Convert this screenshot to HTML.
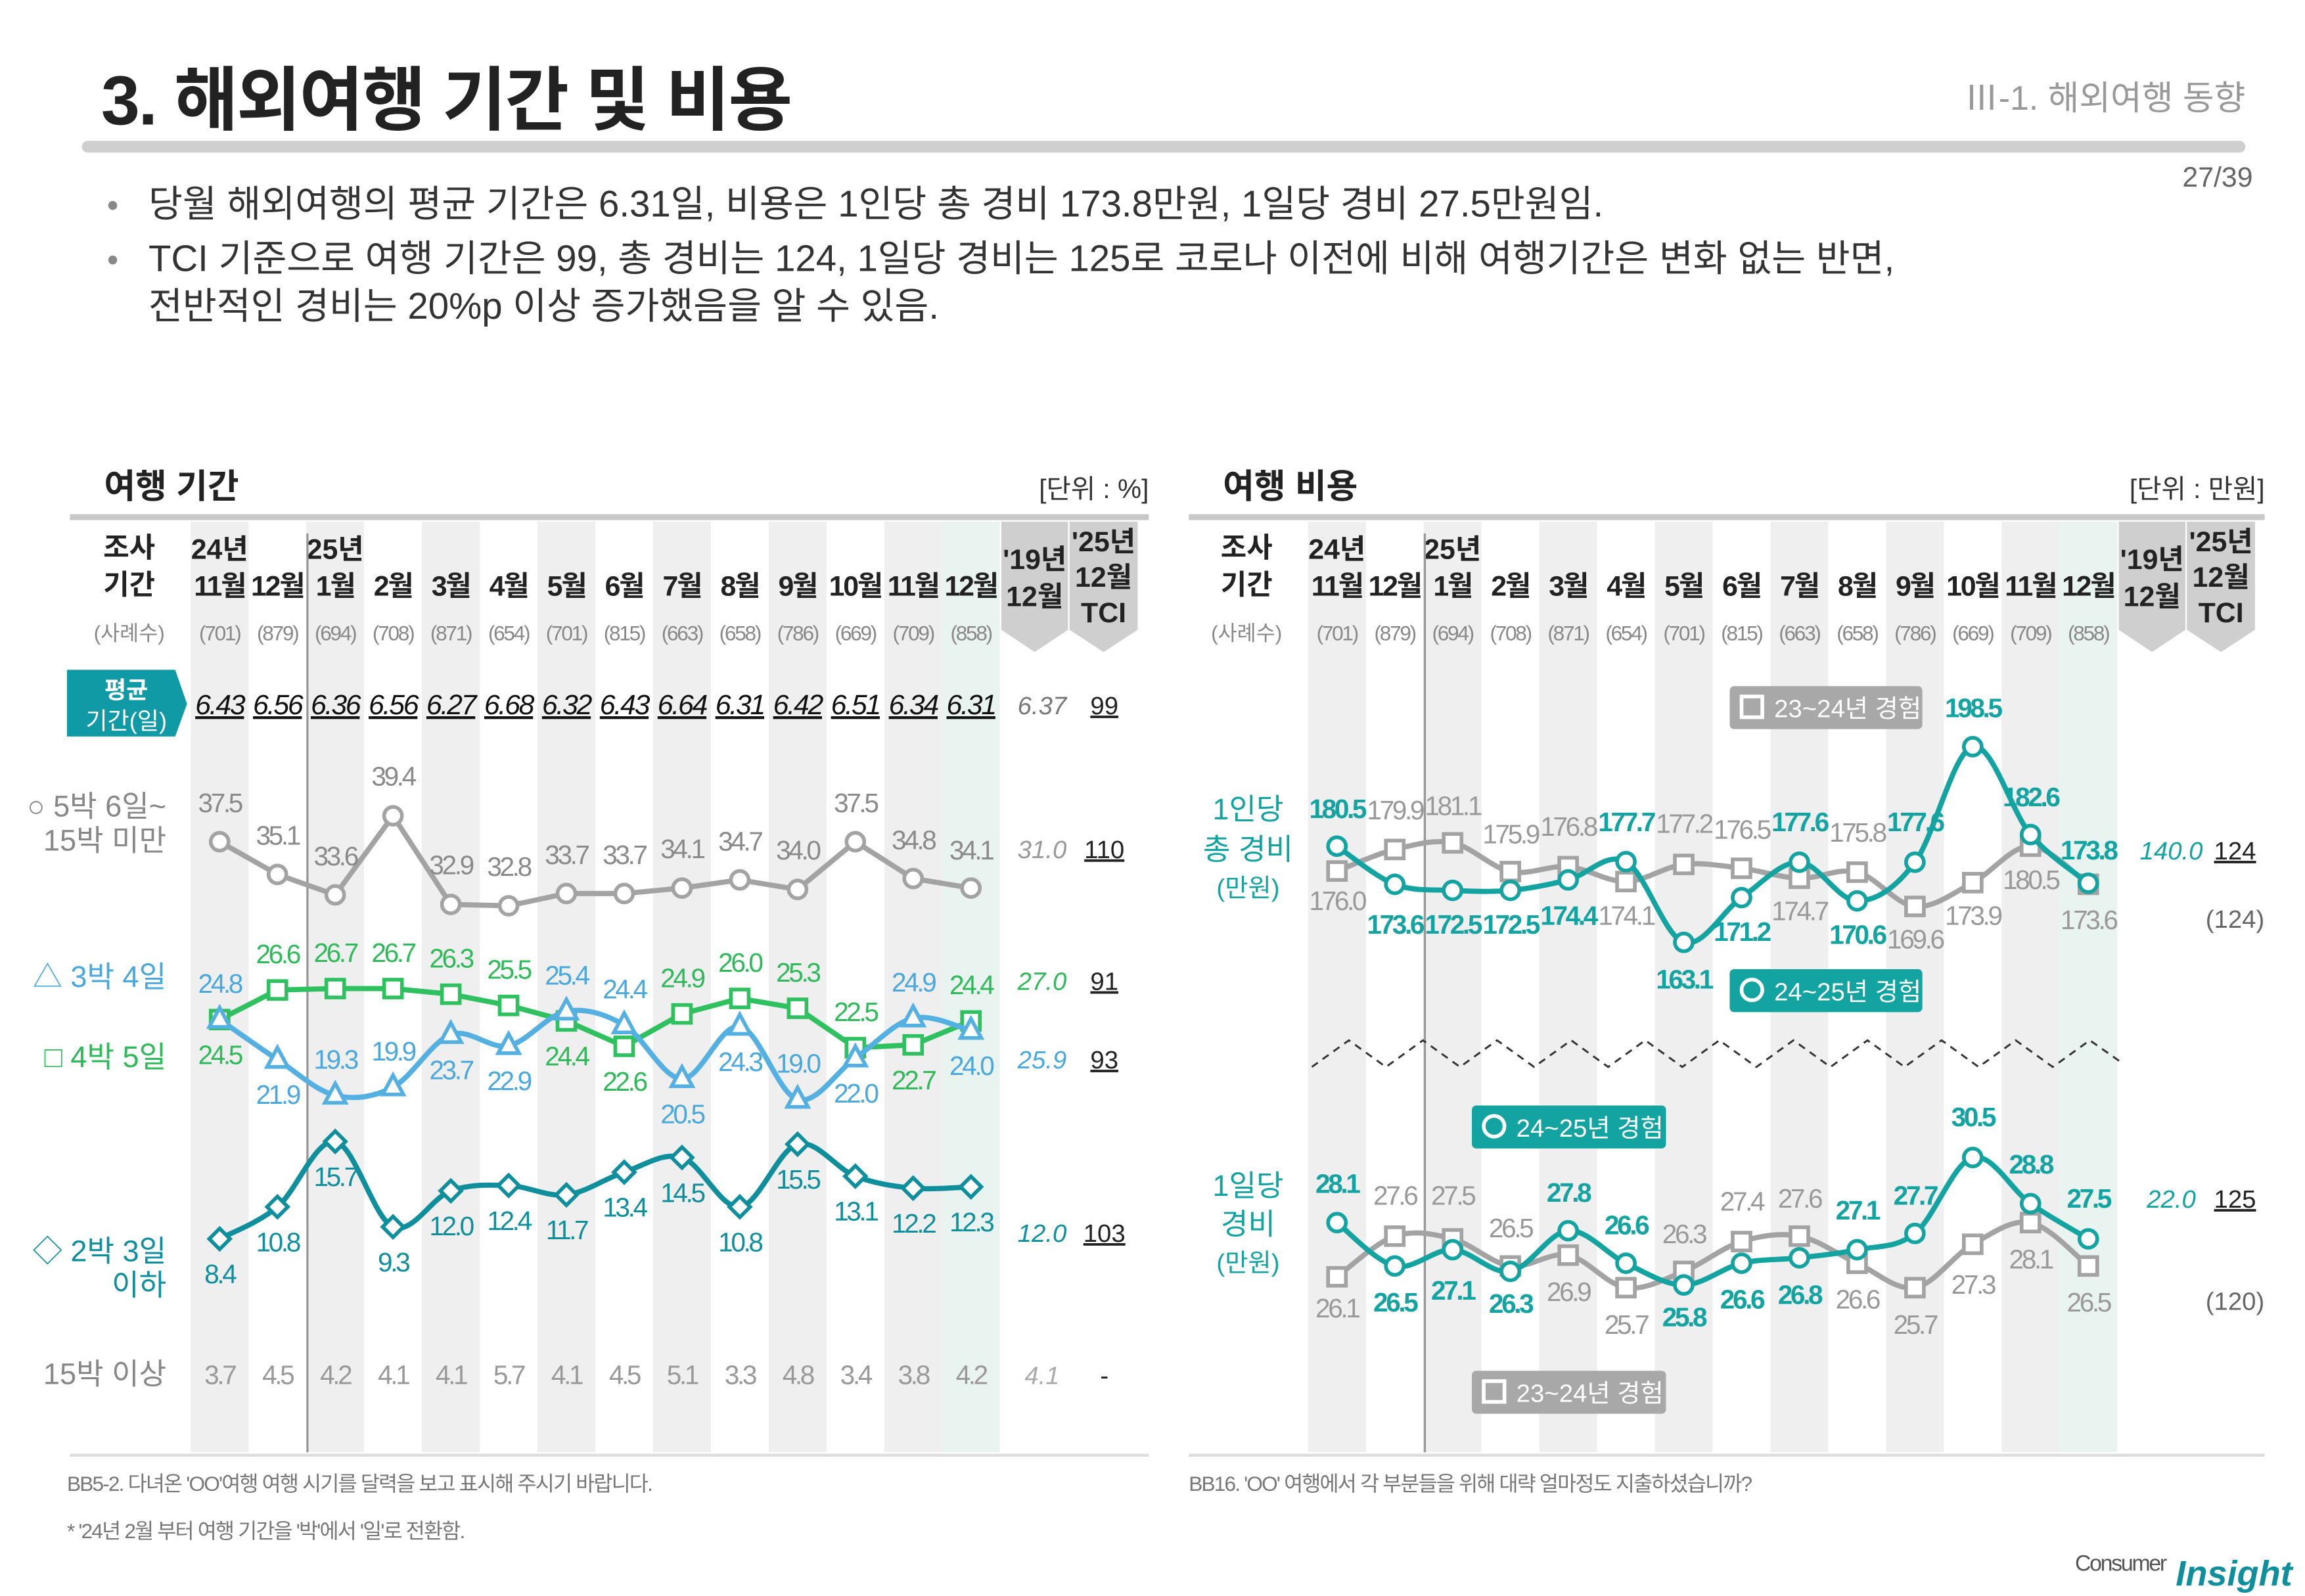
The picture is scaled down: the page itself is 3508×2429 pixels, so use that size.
<!DOCTYPE html>
<html><head><meta charset="utf-8">
<style>
html,body{margin:0;padding:0;background:#fff;}
svg{display:block;}
text{font-family:"Liberation Sans","Noto Sans CJK KR",sans-serif;}
</style></head>
<body>
<svg id="s" xmlns="http://www.w3.org/2000/svg" width="3508" height="2429" viewBox="0 0 1555 1077">
<rect width="1555" height="1077" fill="#fff"/>
<g id="bg"></g>
<!-- Title -->
<text x="68" y="84" font-size="47" font-weight="bold" fill="#222" letter-spacing="-1">3. 해외여행 기간 및 비용</text>
<text x="1515" y="74" font-size="23" fill="#999" text-anchor="end">Ⅲ-1. 해외여행 동향</text>
<rect x="55" y="95" width="1460" height="8" rx="4" fill="#cfcfcf"/>
<text x="1520" y="126" font-size="19" fill="#666" text-anchor="end">27/39</text>
<text x="72" y="146" font-size="22" fill="#888">•</text>
<text x="100" y="146" font-size="25" fill="#333">당월 해외여행의 평균 기간은 6.31일, 비용은 1인당 총 경비 173.8만원, 1일당 경비 27.5만원임.</text>
<text x="72" y="183" font-size="22" fill="#888">•</text>
<text x="100" y="183" font-size="25" fill="#333">TCI 기준으로 여행 기간은 99, 총 경비는 124, 1일당 경비는 125로 코로나 이전에 비해 여행기간은 변화 없는 반면,</text>
<text x="100" y="215" font-size="25" fill="#333">전반적인 경비는 20%p 이상 증가했음을 알 수 있음.</text>

<!-- Left panel header -->
<text x="70" y="336" font-size="23" font-weight="bold" fill="#222">여행 기간</text>
<text x="775" y="336" font-size="18" fill="#333" text-anchor="end">[단위 : %]</text>
<rect x="47" y="347" width="728" height="4" fill="#c8c8c8"/>
<rect x="47" y="981" width="728" height="2" fill="#ddd"/>
<text x="87" y="376" font-size="19" font-weight="bold" fill="#222" text-anchor="middle">조사</text>
<text x="87" y="401" font-size="19" font-weight="bold" fill="#222" text-anchor="middle">기간</text>
<text x="87" y="432" font-size="14" fill="#888" text-anchor="middle">(사례수)</text>

<!-- Right panel header -->
<text x="825" y="336" font-size="23" font-weight="bold" fill="#222">여행 비용</text>
<text x="1528" y="336" font-size="18" fill="#333" text-anchor="end">[단위 : 만원]</text>
<rect x="802" y="347" width="726" height="4" fill="#c8c8c8"/>
<rect x="802" y="981" width="726" height="2" fill="#ddd"/>
<text x="841" y="376" font-size="19" font-weight="bold" fill="#222" text-anchor="middle">조사</text>
<text x="841" y="401" font-size="19" font-weight="bold" fill="#222" text-anchor="middle">기간</text>
<text x="841" y="432" font-size="14" fill="#888" text-anchor="middle">(사례수)</text>

<!-- avg label -->
<path d="M45 452 H118 L126 475 L118 497 H45 Z" fill="#0f9aa6"/>
<text x="85" y="471" font-size="16" font-weight="bold" fill="#fff" text-anchor="middle">평균</text>
<text x="85" y="492" font-size="16" fill="#fff" text-anchor="middle">기간(일)</text>

<!-- left row labels -->
<text x="112" y="551" font-size="20" fill="#888" text-anchor="end">○ 5박 6일~</text>
<text x="112" y="574" font-size="20" fill="#888" text-anchor="end">15박 미만</text>
<text x="112" y="666" font-size="20" fill="#4aa8dc" text-anchor="end">△ 3박 4일</text>
<text x="112" y="720" font-size="20" fill="#2fba5a" text-anchor="end">□ 4박 5일</text>
<text x="112" y="851" font-size="20" fill="#0f8f9c" text-anchor="end">◇ 2박 3일</text>
<text x="112" y="874" font-size="20" fill="#0f8f9c" text-anchor="end">이하</text>
<text x="112" y="934" font-size="20" fill="#888" text-anchor="end">15박 이상</text>

<!-- right row labels -->
<text x="842" y="553" font-size="20" fill="#13a3a0" text-anchor="middle">1인당</text>
<text x="842" y="580" font-size="20" fill="#13a3a0" text-anchor="middle">총 경비</text>
<text x="842" y="605" font-size="17" fill="#13a3a0" text-anchor="middle">(만원)</text>
<text x="842" y="807" font-size="20" fill="#13a3a0" text-anchor="middle">1일당</text>
<text x="842" y="833" font-size="20" fill="#13a3a0" text-anchor="middle">경비</text>
<text x="842" y="858" font-size="17" fill="#13a3a0" text-anchor="middle">(만원)</text>

<!-- TCI columns left -->
<text x="703" y="482" font-size="17" font-style="italic" fill="#777" text-anchor="middle">6.37</text>
<text x="745" y="482" font-size="17" fill="#222" text-anchor="middle" text-decoration="underline">99</text>
<text x="703" y="579" font-size="17" font-style="italic" fill="#999" text-anchor="middle">31.0</text>
<text x="745" y="579" font-size="17" fill="#222" text-anchor="middle" text-decoration="underline">110</text>
<text x="703" y="668" font-size="17" font-style="italic" fill="#2fba5a" text-anchor="middle">27.0</text>
<text x="745" y="668" font-size="17" fill="#222" text-anchor="middle" text-decoration="underline">91</text>
<text x="703" y="721" font-size="17" font-style="italic" fill="#4aa8dc" text-anchor="middle">25.9</text>
<text x="745" y="721" font-size="17" fill="#222" text-anchor="middle" text-decoration="underline">93</text>
<text x="703" y="838" font-size="17" font-style="italic" fill="#0f8f9c" text-anchor="middle">12.0</text>
<text x="745" y="838" font-size="17" fill="#222" text-anchor="middle" text-decoration="underline">103</text>
<text x="703" y="934" font-size="17" font-style="italic" fill="#aaa" text-anchor="middle">4.1</text>
<text x="745" y="934" font-size="17" fill="#222" text-anchor="middle">-</text>

<!-- TCI right -->
<text x="1465" y="580" font-size="17" font-style="italic" fill="#13a3a0" text-anchor="middle">140.0</text>
<text x="1508" y="580" font-size="17" fill="#222" text-anchor="middle" text-decoration="underline">124</text>
<text x="1508" y="626" font-size="17" fill="#666" text-anchor="middle">(124)</text>
<text x="1465" y="815" font-size="17" font-style="italic" fill="#13a3a0" text-anchor="middle">22.0</text>
<text x="1508" y="815" font-size="17" fill="#222" text-anchor="middle" text-decoration="underline">125</text>
<text x="1508" y="884" font-size="17" fill="#666" text-anchor="middle">(120)</text>

<!-- wavy dashed -->
<path d="M885 720 L910 702 L935 720 L960 702 L985 720 L1010 702 L1035 720 L1060 702 L1085 720 L1110 702 L1135 720 L1160 702 L1185 720 L1210 702 L1235 720 L1260 702 L1285 720 L1310 702 L1335 720 L1360 702 L1385 720 L1410 702 L1430 716" fill="none" stroke="#333" stroke-width="1.3" stroke-dasharray="5 4"/>

<g id="fg"></g>

<!-- legend boxes -->
<rect x="1167" y="463" width="130" height="29" rx="3" fill="#a8a8a8"/>
<rect x="1175" y="470" width="14" height="14" fill="none" stroke="#fff" stroke-width="2.5"/>
<text x="1197" y="484" font-size="17" fill="#fff">23~24년 경험</text>
<rect x="1167" y="654" width="130" height="29" rx="3" fill="#13a3a0"/>
<circle cx="1182" cy="668" r="7" fill="none" stroke="#fff" stroke-width="2.5"/>
<text x="1197" y="675" font-size="17" fill="#fff">24~25년 경험</text>
<rect x="993" y="746" width="131" height="29" rx="3" fill="#13a3a0"/>
<circle cx="1008" cy="760" r="7" fill="none" stroke="#fff" stroke-width="2.5"/>
<text x="1023" y="767" font-size="17" fill="#fff">24~25년 경험</text>
<rect x="993" y="925" width="131" height="29" rx="3" fill="#a8a8a8"/>
<rect x="1001" y="932" width="14" height="14" fill="none" stroke="#fff" stroke-width="2.5"/>
<text x="1023" y="946" font-size="17" fill="#fff">23~24년 경험</text>

<!-- footnotes -->
<text x="45" y="1006" font-size="14" fill="#777" letter-spacing="-0.8">BB5-2. 다녀온 'OO'여행 여행 시기를 달력을 보고 표시해 주시기 바랍니다.</text>
<text x="45" y="1038" font-size="14" fill="#777" letter-spacing="-0.8">* '24년 2월 부터 여행 기간을 '박'에서 '일'로 전환함.</text>
<text x="802" y="1006" font-size="14" fill="#777" letter-spacing="-0.8">BB16. 'OO' 여행에서 각 부분들을 위해 대략 얼마정도 지출하셨습니까?</text>
<text x="1400" y="1060" font-size="15" fill="#555" letter-spacing="-1">Consumer</text>
<text x="1468" y="1070" font-size="24" font-weight="bold" font-style="italic" fill="#0f8f9c">Insight</text>
</svg>
<script>
const NS="http://www.w3.org/2000/svg";
const bg=document.getElementById('bg'), fg=document.getElementById('fg');
function el(p,t,a,txt){const e=document.createElementNS(NS,t);for(const k in a)e.setAttribute(k,a[k]);if(txt!==undefined)e.textContent=txt;p.appendChild(e);return e;}
const months=["11월","12월","1월","2월","3월","4월","5월","6월","7월","8월","9월","10월","11월","12월"];
const ns=["(701)","(879)","(694)","(708)","(871)","(654)","(701)","(815)","(663)","(658)","(786)","(669)","(709)","(858)"];
function panel(x0){
  for(let i=0;i<14;i++){
    const cx=x0+i*39;
    if(i%2==0) el(bg,'rect',{x:cx-19.5,y:352,width:39,height:628,fill:'#efefef'});
    if(i==13) el(bg,'rect',{x:cx-19.5,y:352,width:39,height:628,fill:'#e9f4f1'});
    el(bg,'text',{x:cx,y:402,'font-size':19,'font-weight':'bold',fill:'#222','text-anchor':'middle','letter-spacing':-1},months[i]);
    el(bg,'text',{x:cx,y:432,'font-size':14,fill:'#888','text-anchor':'middle','letter-spacing':-1},ns[i]);
  }
  el(bg,'text',{x:x0,y:377,'font-size':19,'font-weight':'bold',fill:'#222','text-anchor':'middle'},"24년");
  el(bg,'text',{x:x0+78,y:377,'font-size':19,'font-weight':'bold',fill:'#222','text-anchor':'middle'},"25년");
  el(bg,'rect',{x:x0+58.5,y:360,width:1.5,height:620,fill:'#999'});
  const a=x0+14*39-19.5;
  el(bg,'path',{d:`M${a+1} 352 H${a+46} V425 L${a+23.5} 440 L${a+1} 425 Z`,fill:'#cfcfcf'});
  el(bg,'path',{d:`M${a+47} 352 H${a+93} V425 L${a+70} 440 L${a+47} 425 Z`,fill:'#cfcfcf'});
  el(bg,'text',{x:a+23.5,y:384,'font-size':19,'font-weight':'bold',fill:'#222','text-anchor':'middle'},"'19년");
  el(bg,'text',{x:a+23.5,y:409,'font-size':19,'font-weight':'bold',fill:'#222','text-anchor':'middle'},"12월");
  el(bg,'text',{x:a+70,y:372,'font-size':19,'font-weight':'bold',fill:'#222','text-anchor':'middle'},"'25년");
  el(bg,'text',{x:a+70,y:396,'font-size':19,'font-weight':'bold',fill:'#222','text-anchor':'middle'},"12월");
  el(bg,'text',{x:a+70,y:420,'font-size':19,'font-weight':'bold',fill:'#222','text-anchor':'middle'},"TCI");
}
panel(148); panel(902);

function smooth(pts){let d=`M${pts[0][0]} ${pts[0][1]}`;
  for(let i=0;i<pts.length-1;i++){const p0=pts[i-1]||pts[i],p1=pts[i],p2=pts[i+1],p3=pts[i+2]||p2;
    d+=` C${p1[0]+(p2[0]-p0[0])/6} ${p1[1]+(p2[1]-p0[1])/6} ${p2[0]-(p3[0]-p1[0])/6} ${p2[1]-(p3[1]-p1[1])/6} ${p2[0]} ${p2[1]}`;}
  return d;}
function series(x0,vals,yf,color,marker,labs,lcol,bold,sm){
  const pts=vals.map((v,i)=>[x0+i*39,yf(v)]);
  el(fg,'path',{d:sm?smooth(pts):'M'+pts.map(p=>p.join(' ')).join(' L'),fill:'none',stroke:color,'stroke-width':3.5,'stroke-linejoin':'round'});
  pts.forEach((p,i)=>{
    const [x,y]=p;
    if(marker=='c') el(fg,'circle',{cx:x,cy:y,r:6,fill:'#fff',stroke:color,'stroke-width':2.5});
    else if(marker=='s') el(fg,'rect',{x:x-6,y:y-6,width:12,height:12,fill:'#fff',stroke:color,'stroke-width':2.5});
    else if(marker=='t') el(fg,'path',{d:`M${x} ${y-8} L${x+7} ${y+5} L${x-7} ${y+5} Z`,fill:'#fff',stroke:color,'stroke-width':2.5});
    else el(fg,'path',{d:`M${x} ${y-7} L${x+7} ${y} L${x} ${y+7} L${x-7} ${y} Z`,fill:'#fff',stroke:color,'stroke-width':2.5});
    const lb=labs[i]; const ly=typeof lb=='number'?lb:(lb=='a'?y-18:y+30);
    el(fg,'text',{x:x,y:ly,'font-size':18,fill:lcol,'font-weight':bold?'bold':'normal','text-anchor':'middle','letter-spacing':-1.5},vals[i].toFixed(1));
  });
}
const avg=["6.43","6.56","6.36","6.56","6.27","6.68","6.32","6.43","6.64","6.31","6.42","6.51","6.34","6.31"];
avg.forEach((v,i)=>el(fg,'text',{x:148+i*39,y:482,'font-size':19,'font-style':'italic',fill:'#111','text-anchor':'middle','text-decoration':'underline','letter-spacing':-1},v));
const v15=["3.7","4.5","4.2","4.1","4.1","5.7","4.1","4.5","5.1","3.3","4.8","3.4","3.8","4.2"];
v15.forEach((v,i)=>el(fg,'text',{x:148+i*39,y:934,'font-size':18,fill:'#999','text-anchor':'middle','letter-spacing':-1.5},v));
series(148,[37.5,35.1,33.6,39.4,32.9,32.8,33.7,33.7,34.1,34.7,34.0,37.5,34.8,34.1],v=>568-(v-37.5)*9.2,'#a3a3a3','c',
 [548,570,584,530,590,591,583,583,579,574,580,548,573,580],'#8a8a8a',false,false);
series(148,[24.5,26.6,26.7,26.7,26.3,25.5,24.4,22.6,24.9,26.0,25.3,22.5,22.7,24.4],v=>688-(v-24.5)*9.5,'#2fc060','s',
 ['b','a','a','a','a','a','b','b','a','a','a','a','b','a'],'#2fba5a',false,false);
series(148,[24.8,21.9,19.3,19.9,23.7,22.9,25.4,24.4,20.5,24.3,19.0,22.0,24.9,24.0],v=>688-(v-24.8)*9.3,'#55b0e2','t',
 ['a','b','a','a','b','b','a','a','b','b','a','b','a','b'],'#4aa8dc',false,true);
series(148,[8.4,10.8,15.7,9.3,12.0,12.4,11.7,13.4,14.5,10.8,15.5,13.1,12.2,12.3],v=>836-(v-8.4)*9,'#0f8f9c','d',
 ['b','b','b','b','b','b','b','b','b','b','b','b','b','b'],'#0f8f9c',false,true);
const ty=v=>596-(v-173.8)*3.73;
series(902,[176.0,179.9,181.1,175.9,176.8,174.1,177.2,176.5,174.7,175.8,169.6,173.9,180.5,173.6],ty,'#a3a3a3','s',
 [614,553,550,569,564,624,562,566,621,568,640,624,600,627],'#999',false,true);
series(902,[180.5,173.6,172.5,172.5,174.4,177.7,163.1,171.2,177.6,170.6,177.6,198.5,182.6,173.8],ty,'#13a3a0','c',
 [552,630,630,630,624,561,667,635,561,637,561,484,544,580],'#13a3a0',true,true);
const dy=v=>836-(v-27.5)*18.3;
series(902,[26.1,27.6,27.5,26.5,26.9,25.7,26.3,27.4,27.6,26.6,25.7,27.3,28.1,26.5],dy,'#a3a3a3','s',
 [889,813,813,835,878,900,839,817,815,883,900,873,856,885],'#999',false,true);
series(902,[28.1,26.5,27.1,26.3,27.8,26.6,25.8,26.6,26.8,27.1,27.7,30.5,28.8,27.5],dy,'#13a3a0','c',
 [805,885,877,886,811,833,895,883,880,823,813,760,792,815],'#13a3a0',true,true);
</script>
</body></html>
